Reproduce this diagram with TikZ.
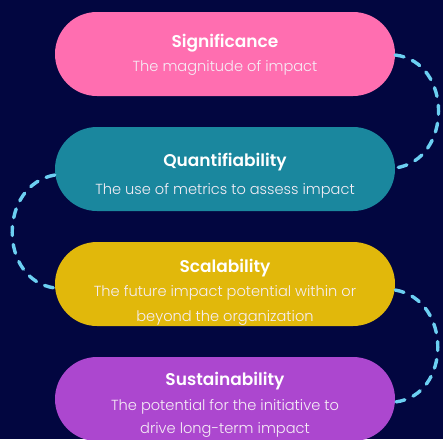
\documentclass[tikz,border=0pt]{standalone}
\usepackage{fontspec}
\setmainfont{Poppins}[UprightFont={* Light},BoldFont={* SemiBold}]
\definecolor{bg}{HTML}{020640}
\definecolor{cpink}{HTML}{FF6EB0}
\definecolor{cteal}{HTML}{1A879E}
\definecolor{cyellow}{HTML}{E1B80B}
\definecolor{cpurple}{HTML}{AC47CF}
\definecolor{cdash}{HTML}{6CCFF2}
\definecolor{subtxt}{HTML}{F6EEF6}
\begin{document}
\begin{tikzpicture}[x=1pt,y=-1pt,
  pill/.style={draw=none,minimum width=340pt,minimum height=84pt,rounded corners=42pt,inner sep=0pt},
  ttl/.style={anchor=base,text=white,font=\fontsize{17}{19}\selectfont\bfseries,inner sep=0pt},
  sub/.style={anchor=base,text=subtxt,font=\fontsize{14.6}{17}\selectfont,inner sep=0pt},
  link/.style={draw=cdash,line width=3.4pt,line cap=round,dash pattern=on 9pt off 9pt}]
\useasboundingbox (0,0) rectangle (443,439);
\clip (0,0) rectangle (443,439);
\fill[bg] (0,0) rectangle (443,439);
% pills
\node[pill,fill=cpink]   (p1) at (225,54)  {};
\node[pill,fill=cteal]   (p2) at (225,169) {};
\node[pill,fill=cyellow] (p3) at (225,284) {};
\node[pill,fill=cpurple] (p4) at (225,399) {};
% texts
\node[ttl] (t1) at (225,47) {Significance};
\node[sub] (s1) at (225,71) {The magnitude of impact};
\node[ttl] (t2) at (225,166) {Quantifiability};
\node[sub] (s2) at (225,194) {The use of metrics to assess impact};
\node[ttl] (t3) at (225,272) {Scalability};
\node[sub] (s3a) at (225,296) {The future impact potential within or};
\node[sub] (s3b) at (225,321) {beyond the organization};
\node[ttl] (t4) at (225,385) {Sustainability};
\node[sub] (s4a) at (225,410) {The potential for the initiative to};
\node[sub] (s4b) at (225,433.5) {drive long-term impact};
% connectors
\draw[link] ([yshift=-1pt]p1.east) .. controls (453,62) and (453,160) .. ([yshift=1pt]p2.east);
\draw[link] ([yshift=-6pt]p2.west) .. controls (-2,185) and (-2,280) .. ([yshift=-4pt]p3.west);
\draw[link] ([yshift=-6pt]p3.east) .. controls (452,300) and (452,395) .. ([yshift=-3pt]p4.east);
\end{tikzpicture}
\end{document}
